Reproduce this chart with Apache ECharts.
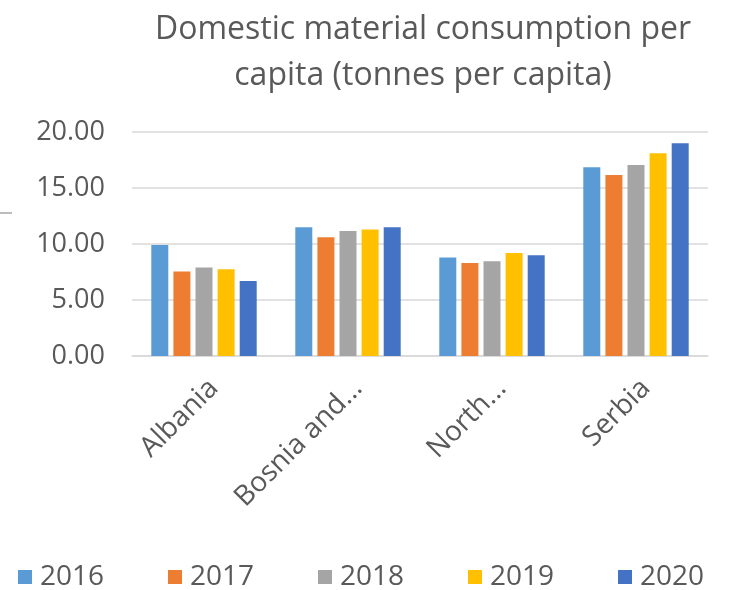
<!DOCTYPE html>
<html>
<head>
<meta charset="utf-8">
<script src="https://cdn.jsdelivr.net/npm/echarts@6/dist/echarts.min.js"></script>
<style>
  html, body { margin: 0; padding: 0; background: #fff; }
  #main { width: 733px; height: 590px; }
</style>
</head>
<body>
<div id="main"></div>
<script>
var countries = ['Albania', 'Bosnia and Herzegovina', 'North Macedonia', 'Serbia'];
var tickLabels = ['Albania', 'Bosnia and...', 'North...', 'Serbia'];
var years = ['2016', '2017', '2018', '2019', '2020'];
var colors = ['#5b9bd5', '#ed7d31', '#a5a5a5', '#ffc000', '#4472c4'];

var v2016 = [9.9, 11.5, 8.8, 16.85];
var v2017 = [7.55, 10.6, 8.3, 16.15];
var v2018 = [7.9, 11.15, 8.45, 17.05];
var v2019 = [7.75, 11.3, 9.2, 18.1];
var v2020 = [6.7, 11.5, 9.0, 19.0];
var values = [v2016, v2017, v2018, v2019, v2020];

var textColor = '#595959';
var font = '"Open Sans", Lato, sans-serif';

var myChart = echarts.init(document.getElementById('main'));

var series = [];
var legends = [];
for (var i = 0; i < years.length; i++) {
    series.push({
        name: years[i],
        type: 'bar',
        data: values[i],
        barWidth: 17,
        barGap: '30%',
        itemStyle: { color: colors[i] }
    });
    // one legend per year so they sit on even steps like the original
    legends.push({
        data: [years[i]],
        left: 13 + 150 * i,
        top: 558,
        itemWidth: 14,
        itemHeight: 14,
        itemGap: 0,
        icon: 'rect',
        textStyle: { fontFamily: font, fontSize: 28, color: textColor, padding: [0, 0, 0, 3] }
    });
}

var option = {
    animation: false,
    title: {
        text: 'Domestic material consumption per\ncapita (tonnes per capita)',
        left: 418,
        top: 2,
        textAlign: 'center',
        textStyle: {
            fontFamily: font,
            fontSize: 32,
            fontWeight: 'normal',
            color: textColor,
            lineHeight: 46
        }
    },
    legend: legends,
    grid: {
        left: 132,
        right: 25,
        top: 132,
        bottom: 234
    },
    xAxis: {
        type: 'category',
        data: countries,
        axisLine: { lineStyle: { color: '#d9d9d9', width: 1.5 } },
        axisTick: { show: false },
        axisLabel: {
            rotate: 45,
            interval: 0,
            margin: 18,
            verticalAlign: 'top',
            fontFamily: font,
            fontSize: 28,
            color: textColor,
            formatter: function (val, idx) { return tickLabels[idx]; }
        }
    },
    yAxis: {
        type: 'value',
        min: 0,
        max: 20,
        interval: 5,
        axisLine: { show: false },
        axisTick: { show: false },
        splitLine: { lineStyle: { color: '#d9d9d9', width: 1.5 } },
        axisLabel: {
            margin: 27,
            fontFamily: font,
            fontSize: 27,
            color: textColor,
            formatter: function (v) { return v.toFixed(2); }
        }
    },
    graphic: [{
        type: 'line',
        shape: { x1: 0, y1: 213, x2: 12, y2: 213 },
        style: { stroke: '#a6a6a6', lineWidth: 1.5 }
    }],
    series: series
};

myChart.setOption(option);
</script>
</body>
</html>
